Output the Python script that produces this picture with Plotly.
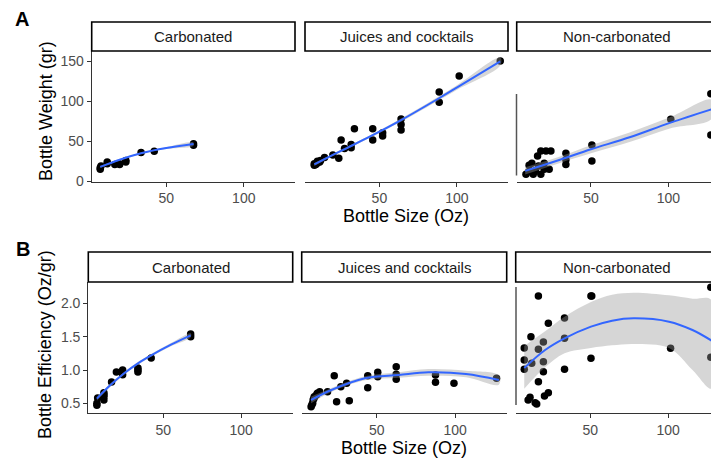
import plotly.graph_objects as go

W, H = 711, 461
Y_SCALE = 453.0  # vertical compensation for the screenshot pipeline

# ---------------- data ----------------
facets = ["Carbonated", "Juices and cocktails", "Non-carbonated"]

# Panel A: bottle weight (gr) vs bottle size (Oz)
carb_size_a = [7.5, 7.5, 8, 12, 12, 16.9, 20, 20, 24, 24, 33.8, 42.3, 67.6, 67.6]
carb_weight = [15, 17, 19, 22, 24, 21, 22, 21, 24, 26, 36, 37.5, 45, 47]

juice_size_a = [8, 8, 9, 10, 10, 11.5, 12, 14.6, 20, 23.8, 25.3, 27.5, 31.8, 31.8, 33.9,
                45.7, 45.7, 52.1, 52.1, 64, 64, 64, 88.6, 88.6, 101.5, 128]
juice_weight = [20, 22, 21, 23, 25, 24, 26, 29.6, 33, 28.7, 51.7, 41, 42, 46, 65.8,
                65.8, 51.7, 60.8, 56.7, 78, 71, 64, 111.7, 99, 131.6, 150.4]

nc_size_a = [8, 9.7, 11.8, 12.7, 15.5, 16.1, 17.6, 17.6, 19.8, 19.8, 20.9, 23, 24.1,
             10, 14, 33.8, 33.8, 33.8, 50.6, 50.6, 101.6, 127.5, 127.5]
nc_weight = [8.7, 12, 22.5, 8.7, 31.7, 19, 38, 8.7, 22.5, 15, 38, 15, 38,
             20, 13, 35, 27, 21, 45.4, 25.4, 77.5, 109.6, 58]

# Panel B: bottle efficiency (Oz/gr) vs bottle size (Oz)
carb_size_b = [7.5, 7.5, 8, 12, 12, 12, 12, 16.9, 20, 24, 24, 33.8, 33.8, 33.8, 42.3, 67.6, 67.6]
carb_eff = [0.47, 0.50, 0.58, 0.55, 0.60, 0.63, 0.66, 0.82, 0.97, 1.0, 0.93, 0.97, 1.0, 1.03,
            1.18, 1.50, 1.54]

juice_size_b = [8, 8.5, 9, 9.3, 9.9, 10, 11.4, 12, 13.5, 18.5, 22.8, 24.3, 27, 30.7, 32.4,
                44.2, 44.2, 50.6, 50.6, 62.4, 62.4, 62.4, 87.5, 87.5, 99.3, 126.5]
juice_eff = [0.45, 0.48, 0.50, 0.55, 0.575, 0.60, 0.625, 0.65, 0.675, 0.675, 0.915, 0.525,
             0.75, 0.80, 0.54, 0.915, 0.735, 0.965, 0.90, 1.05, 0.935, 0.86, 0.925, 0.815,
             0.80, 0.875]

nc_size_b = [16.6, 50.4, 50.9, 127.5, 23, 33.4, 11.8, 19.8, 33.4, 7.5, 16.6, 7.5, 12.3,
             19.8, 7.5, 19.8, 33.4, 50.4, 101.6, 127.5, 16.6, 11.2, 10, 15.5, 14.5, 20.5, 23]
nc_eff = [2.11, 2.11, 2.11, 2.24, 1.70, 1.78, 1.50, 1.42, 1.475, 1.33, 1.31, 1.15, 1.10,
          1.125, 1.01, 0.975, 1.01, 1.175, 1.325, 1.19, 0.825, 0.59, 0.55, 0.49, 0.51,
          0.61, 0.66]

# Smoothed fits (loess) with confidence bands
carb_fit_x_a = [7.5, 20, 33.8, 50, 67.6]
carb_fit_a = [18, 27, 35, 41.5, 46.5]
carb_lo_a = [16.5, 26, 34, 40.3, 44.5]
carb_hi_a = [19.5, 28, 36, 42.7, 48.5]

juice_fit_x_a = [8, 20, 30, 45, 64, 89, 101, 128]
juice_fit_a = [21, 33, 42.5, 57, 76.5, 104.5, 118.5, 150]
juice_lo_a = [19, 31.5, 41, 55.5, 74.5, 102, 115.5, 145]
juice_hi_a = [23, 34.5, 44, 58.5, 78.5, 107, 121.5, 155]

nc_fit_x_a = [7.5, 30, 50, 75, 101, 128]
nc_fit_a = [13, 27, 40, 55, 73, 90]
nc_lo_a = [8.5, 23, 35, 49, 66, 78]
nc_hi_a = [17.5, 31, 45, 61, 80, 102]

carb_fit_x_b = [7.5, 16, 25, 33.8, 42.3, 55, 67.6]
carb_fit_b = [0.57, 0.77, 0.95, 1.1, 1.22, 1.38, 1.52]
carb_lo_b = [0.54, 0.745, 0.93, 1.08, 1.2, 1.355, 1.49]
carb_hi_b = [0.60, 0.795, 0.97, 1.12, 1.24, 1.405, 1.55]

juice_fit_x_b = [8, 21, 42.5, 64, 83, 107, 128]
juice_fit_b = [0.55, 0.70, 0.875, 0.925, 0.965, 0.94, 0.85]
juice_lo_b = [0.50, 0.67, 0.845, 0.885, 0.915, 0.89, 0.78]
juice_hi_b = [0.60, 0.73, 0.905, 0.965, 1.015, 0.99, 0.92]

nc_fit_x_b = [7.5, 20.9, 33.4, 50.4, 64, 78, 100.6, 115.7, 128]
nc_fit_b = [1.03, 1.3, 1.475, 1.65, 1.74, 1.775, 1.725, 1.6, 1.44]
nc_lo_b = [0.72, 1.04, 1.25, 1.33, 1.37, 1.39, 1.33, 1.0, 0.72]
nc_hi_b = [1.36, 1.58, 1.80, 2.02, 2.13, 2.16, 2.12, 2.07, 2.05]

x_ticks = [50, 100]
y_ticks_a = [0, 50, 100, 150]
y_ticks_b = [0.5, 1.0, 1.5, 2.0]
y_ticktext_b = ["0.5", "1.0", "1.5", "2.0"]

# ---------------- layout helpers ----------------
FONT = "Arial, 'Liberation Sans', sans-serif"


def fx(p):
    return p / W


def fy(p):
    return 1 - p / Y_SCALE


panels = [
    (carb_size_a, carb_weight, carb_fit_x_a, carb_fit_a, carb_lo_a, carb_hi_a),
    (juice_size_a, juice_weight, juice_fit_x_a, juice_fit_a, juice_lo_a, juice_hi_a),
    (nc_size_a, nc_weight, nc_fit_x_a, nc_fit_a, nc_lo_a, nc_hi_a),
    (carb_size_b, carb_eff, carb_fit_x_b, carb_fit_b, carb_lo_b, carb_hi_b),
    (juice_size_b, juice_eff, juice_fit_x_b, juice_fit_b, juice_lo_b, juice_hi_b),
    (nc_size_b, nc_eff, nc_fit_x_b, nc_fit_b, nc_lo_b, nc_hi_b),
]

xdom_px = [(91.7, 295), (305, 508), (516.7, 711), (88.3, 292.7), (301.7, 506.7), (515.7, 711)]
ydom_px = {0: (51, 181.5), 1: (282, 413)}
strip_px = {0: (22, 51), 1: (252, 282)}
strip_text_x = [(91.7 + 295) / 2, (305 + 508) / 2, 617, (88.3 + 292.7) / 2, (301.7 + 506.7) / 2, 616.5]
xranges = [[2, 133], [2, 133], [2, 127.6], [2, 133], [2, 133], [2, 127.6]]
yranges = {0: [-0.3, 163], 1: [0.355, 2.32]}

fig = go.Figure()
layout = {}
shapes = []
annotations = []

for i, (xs, ys, fxv, fv, lo, hi) in enumerate(panels):
    k = i + 1
    row = 0 if i < 3 else 1
    col = i % 3
    xa = "x" if k == 1 else f"x{k}"
    ya = "y" if k == 1 else f"y{k}"

    fig.add_trace(go.Scatter(x=xs, y=ys, mode="markers", xaxis=xa, yaxis=ya,
                             marker=dict(color="black", size=7.5), showlegend=False,
                             hoverinfo="skip"))
    fig.add_trace(go.Scatter(x=list(fxv) + list(fxv)[::-1], y=list(hi) + list(lo)[::-1],
                             mode="lines", fill="toself", xaxis=xa, yaxis=ya,
                             fillcolor="rgba(153,153,153,0.4)", line=dict(width=0,
                             shape="spline"), showlegend=False, hoverinfo="skip"))
    fig.add_trace(go.Scatter(x=fxv, y=fv, mode="lines", xaxis=xa, yaxis=ya,
                             line=dict(color="#3366FF", width=2, shape="spline"),
                             showlegend=False, hoverinfo="skip"))

    x0, x1 = xdom_px[i]
    y0, y1 = ydom_px[row]
    layout[f"xaxis{k}"] = dict(
        domain=[fx(x0), min(1.0, fx(x1))], anchor=ya, range=xranges[i],
        showline=True, linecolor="#333333", linewidth=1.2, ticks="outside",
        ticklen=4, tickcolor="#333333", tickwidth=1, tickvals=x_ticks,
        tickfont=dict(size=14, color="#4D4D4D", family=FONT),
        showgrid=False, zeroline=False, fixedrange=True)
    ydict = dict(domain=[fy(y1), fy(y0)], anchor=xa, range=yranges[row],
                 showgrid=False, zeroline=False, fixedrange=True)
    if col == 0:
        ydict.update(showline=True, linecolor="#333333", linewidth=1.2,
                     ticks="outside", ticklen=4, tickcolor="#333333", tickwidth=1,
                     tickfont=dict(size=14, color="#4D4D4D", family=FONT))
        if row == 0:
            ydict.update(tickvals=y_ticks_a)
        else:
            ydict.update(tickvals=y_ticks_b, ticktext=y_ticktext_b)
    else:
        ydict.update(showline=False, ticks="", showticklabels=False)
    layout[f"yaxis{k}"] = ydict

    # strip box
    s0, s1 = strip_px[row]
    shapes.append(dict(type="rect", xref="paper", yref="paper",
                       x0=fx(x0), x1=fx(x1 + 3 if col == 2 else x1),
                       y0=fy(s1), y1=fy(s0),
                       line=dict(color="black", width=1.6), fillcolor="white"))
    annotations.append(dict(text=facets[col], xref="paper", yref="paper",
                            x=fx(strip_text_x[i]), y=fy((s0 + s1) / 2), showarrow=False,
                            xanchor="center", yanchor="middle",
                            font=dict(size=15, color="#1A1A1A", family=FONT)))

# partial vertical lines at the left of the Non-carbonated panels
shapes.append(dict(type="line", xref="paper", yref="paper", x0=fx(516.5), x1=fx(516.5),
                   y0=fy(94), y1=fy(175.5), line=dict(color="#555555", width=1.5)))
shapes.append(dict(type="line", xref="paper", yref="paper", x0=fx(516), x1=fx(516),
                   y0=fy(287), y1=fy(405), line=dict(color="#555555", width=1.5)))

# axis titles and panel tags
title_font = dict(size=18, color="black", family=FONT)
annotations += [
    dict(text="Bottle Weight (gr)", xref="paper", yref="paper", x=fx(46), y=fy(111),
         textangle=-90, showarrow=False, xanchor="center", yanchor="middle", font=title_font),
    dict(text="Bottle Efficiency (Oz/gr)", xref="paper", yref="paper", x=fx(45), y=fy(345),
         textangle=-90, showarrow=False, xanchor="center", yanchor="middle", font=title_font),
    dict(text="Bottle Size (Oz)", xref="paper", yref="paper", x=fx(406), y=fy(216),
         showarrow=False, xanchor="center", yanchor="middle", font=title_font),
    dict(text="Bottle Size (Oz)", xref="paper", yref="paper", x=fx(404), y=fy(448),
         showarrow=False, xanchor="center", yanchor="middle", font=title_font),
    dict(text="<b>A</b>", xref="paper", yref="paper", x=fx(22), y=fy(19),
         showarrow=False, xanchor="center", yanchor="middle",
         font=dict(size=20, color="black", family=FONT)),
    dict(text="<b>B</b>", xref="paper", yref="paper", x=fx(22.5), y=fy(249),
         showarrow=False, xanchor="center", yanchor="middle",
         font=dict(size=20, color="black", family=FONT)),
]

fig.update_layout(width=W, height=H, margin=dict(l=0, r=0, t=0, b=0),
                  paper_bgcolor="white", plot_bgcolor="white",
                  shapes=shapes, annotations=annotations, showlegend=False,
                  font=dict(family=FONT), **layout)

fig.write_html("out.html", config={"displayModeBar": False},
               post_script="document.body.style.margin='0';")
